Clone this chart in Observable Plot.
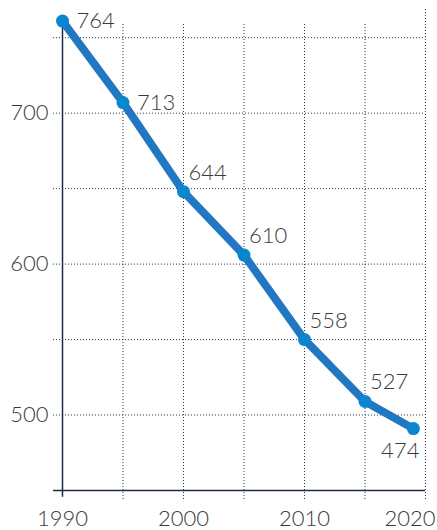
<!DOCTYPE html>
<html><head><meta charset="utf-8">
<script src="https://cdn.jsdelivr.net/npm/d3@7"></script>
<script src="https://cdn.jsdelivr.net/npm/@observablehq/plot@0.6"></script>
<style>body{margin:0;background:#fff}</style>
</head><body><div id="chart"></div>
<script>
const years = [1990, 1995, 2000, 2005, 2010, 2015, 2019];
const values = [761, 707, 648, 606, 550, 509, 491];
const labels = ["764", "713", "644", "610", "558", "527", "474"];
const yGrid = [500, 550, 600, 650, 700, 750];
const yTickLabels = [500, 600, 700];
const xGrid = [1995, 2000, 2005, 2010, 2015];
const xTickLabels = [1990, 2000, 2010, 2020];

const data = years.map((year, i) => ({year, value: values[i], label: labels[i], i}));
const n = data.length;

const navy = "#1d2b4a";
const dots = "1,2";
const textFill = "#3a3a3a";

const plot = Plot.plot({
  width: 437, height: 530,
  marginLeft: 62, marginRight: 12, marginTop: 7, marginBottom: 40,
  style: {fontFamily: "Lato, 'Open Sans', sans-serif", fontSize: "22px", background: "#fff", overflow: "visible"},
  x: {domain: [1990, 2020], axis: null},
  y: {domain: [450, 770], axis: null},
  marks: [
    Plot.ruleY(yGrid, {x1: 1989.25, x2: 2020, stroke: navy, strokeDasharray: dots, strokeWidth: 1}),
    Plot.ruleX(xGrid, {y1: 444, y2: 759, stroke: navy, strokeDasharray: dots, strokeWidth: 1}),
    Plot.ruleX([2020], {y1: 444, y2: 770, stroke: navy, strokeDasharray: dots, strokeWidth: 1}),
    Plot.ruleX([1990], {y1: 445.5, y2: values[0], stroke: navy, strokeWidth: 1.5}),
    Plot.ruleY([450], {x1: 1989.25, x2: 2020, stroke: navy, strokeWidth: 1.5}),
    Plot.text(yTickLabels, {x: 1990, y: d => d, text: d => String(d), textAnchor: "end", dx: -14, fill: textFill, fontWeight: 300}),
    Plot.text(xTickLabels.slice(0, -1), {x: d => d, y: 450, text: d => String(d), dy: 28, fill: textFill, fontWeight: 300}),
    Plot.text(xTickLabels.slice(-1), {x: d => d, y: 450, text: d => String(d), dy: 28, dx: 10, textAnchor: "end", fill: textFill, fontWeight: 300}),
    Plot.line(data, {x: "year", y: "value", stroke: "#2277c2", strokeWidth: 8, strokeLinejoin: "round"}),
    Plot.dot(data, {x: "year", y: "value", r: 6.5, fill: "#0a85cf"}),
    Plot.text(data.filter(d => d.i < 2), {x: "year", y: "value", text: "label", textAnchor: "start", dx: 14, dy: 0, fill: textFill, fontWeight: 300}),
    Plot.text(data.filter(d => d.i >= 2 && d.i < n - 1), {x: "year", y: "value", text: "label", textAnchor: "start", dx: 5, dy: -19, fill: textFill, fontWeight: 300}),
    Plot.text(data.filter(d => d.i === n - 1), {x: "year", y: "value", text: "label", textAnchor: "end", dx: 6, dy: 22, fill: textFill, fontWeight: 300})
  ]
});
document.getElementById("chart").append(plot);
</script>
</body></html>
